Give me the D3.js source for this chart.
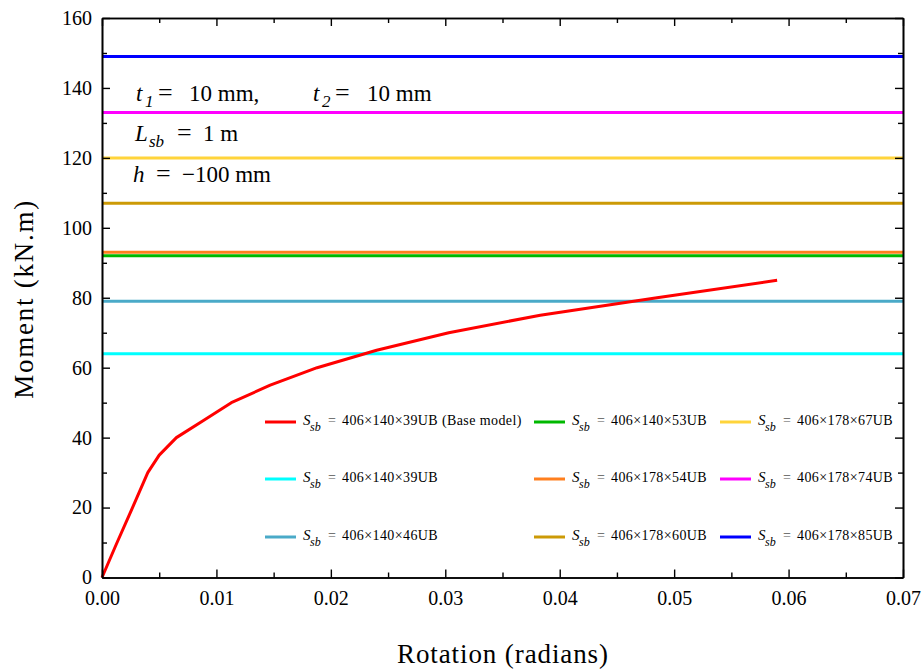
<!DOCTYPE html>
<html>
<head>
<meta charset="utf-8">
<script src="https://cdn.jsdelivr.net/npm/d3@7"></script>
<style>
  html, body { margin: 0; padding: 0; background: #fff; }
  svg { display: block; font-family: "Liberation Serif", "Times New Roman", serif; }
  .axis path, .axis line { stroke: #000; }
  .axis text { font-family: "Liberation Serif", serif; fill: #000; }
</style>
</head>
<body>
<svg id="chart" width="923" height="671"></svg>
<script>
// Moment–rotation curve of the base model
const rotation = [0, 0.00125, 0.0026, 0.004, 0.005, 0.0065, 0.0089, 0.0113, 0.0147, 0.0188, 0.024, 0.0303, 0.0383, 0.0485, 0.059];
const moment   = [0, 9.5, 19.5, 30, 35, 40, 45, 50, 55, 60, 65, 70, 75, 80, 85];

// Plastic moment capacities of the candidate secondary beam sections (kN.m)
const sectionNames = ["406×140×39UB", "406×140×46UB", "406×140×53UB", "406×178×54UB",
                      "406×178×60UB", "406×178×67UB", "406×178×74UB", "406×178×85UB"];
const capacities   = [64, 79, 92, 93, 107, 120, 133, 149];
const sectionColors = ["#00ffff", "#4aaac8", "#00b800", "#ff7f1e", "#cc9a06", "#ffd43b", "#ff00ff", "#0000ff"];

const baseName = "406×140×39UB (Base model)";
const baseColor = "#ff0000";

// Ticks
const xTicks = [0, 0.01, 0.02, 0.03, 0.04, 0.05, 0.06, 0.07];
const xMinorTicks = [0.005, 0.015, 0.025, 0.035, 0.045, 0.055, 0.065];
const yTicks = [0, 20, 40, 60, 80, 100, 120, 140, 160];
const yMinorTicks = [10, 30, 50, 70, 90, 110, 130, 150];

const svg = d3.select("#chart");
const W = 923, H = 671;
const margin = { top: 18, right: 20, bottom: 93.5, left: 102 };
const iw = W - margin.left - margin.right;
const ih = H - margin.top - margin.bottom;

const x = d3.scaleLinear().domain([0, 0.07]).range([0, iw]);
const y = d3.scaleLinear().domain([0, 160]).range([ih, 0]);

const g = svg.append("g").attr("transform", `translate(${margin.left},${margin.top})`);

// Capacity lines
g.selectAll("line.cap")
  .data(capacities)
  .join("line")
  .attr("class", "cap")
  .attr("x1", x(0)).attr("x2", x(0.07))
  .attr("y1", d => y(d)).attr("y2", d => y(d))
  .attr("stroke", (d, i) => sectionColors[i])
  .attr("stroke-width", 3);

// Base model curve
const curve = rotation.map((r, i) => [r, moment[i]]);
g.append("path")
  .datum(curve)
  .attr("fill", "none")
  .attr("stroke", baseColor)
  .attr("stroke-width", 3)
  .attr("stroke-linejoin", "round")
  .attr("d", d3.line().x(d => x(d[0])).y(d => y(d[1])));

// Axes with inward ticks on all four sides
const fmtX = d3.format(".2f");
function styleAxis(sel) {
  sel.attr("class", "axis");
  sel.select(".domain").attr("stroke-width", 1.6);
  sel.selectAll(".tick line").attr("stroke-width", 1.4);
  return sel;
}
styleAxis(g.append("g").attr("transform", `translate(0,${ih})`)
  .call(d3.axisBottom(x).tickValues(xTicks).tickFormat(fmtX).tickSizeInner(-8).tickSizeOuter(0).tickPadding(13)))
  .selectAll("text").attr("font-size", 20);
styleAxis(g.append("g").attr("transform", `translate(0,${ih})`)
  .call(d3.axisBottom(x).tickValues(xMinorTicks).tickFormat("").tickSizeInner(-5).tickSizeOuter(0)));
styleAxis(g.append("g")
  .call(d3.axisTop(x).tickValues(xTicks).tickFormat("").tickSizeInner(-8).tickSizeOuter(0)));
styleAxis(g.append("g")
  .call(d3.axisTop(x).tickValues(xMinorTicks).tickFormat("").tickSizeInner(-5).tickSizeOuter(0)));

styleAxis(g.append("g")
  .call(d3.axisLeft(y).tickValues(yTicks).tickFormat(d3.format("d")).tickSizeInner(-8).tickSizeOuter(0).tickPadding(10)))
  .selectAll("text").attr("font-size", 20);
styleAxis(g.append("g")
  .call(d3.axisLeft(y).tickValues(yMinorTicks).tickFormat("").tickSizeInner(-5).tickSizeOuter(0)));
styleAxis(g.append("g").attr("transform", `translate(${iw},0)`)
  .call(d3.axisRight(y).tickValues(yTicks).tickFormat("").tickSizeInner(-8).tickSizeOuter(0)));
styleAxis(g.append("g").attr("transform", `translate(${iw},0)`)
  .call(d3.axisRight(y).tickValues(yMinorTicks).tickFormat("").tickSizeInner(-5).tickSizeOuter(0)));

// Axis titles
svg.append("text")
  .attr("x", margin.left + iw / 2).attr("y", 663)
  .attr("text-anchor", "middle")
  .attr("font-size", 27)
  .attr("textLength", 211)
  .text("Rotation (radians)");
svg.append("text")
  .attr("transform", `translate(33,${margin.top + ih / 2 + 2}) rotate(-90)`)
  .attr("text-anchor", "middle")
  .attr("font-size", 27)
  .attr("textLength", 198)
  .text("Moment (kN.m)");

// Parameter annotations: symbol, optional subscript, "=" and value placed separately
const ann = svg.append("g").attr("font-size", 23).attr("fill", "#000");
function paramLabel(x0, yb, sym, sub, subOffset, eqX, valX, value) {
  const t = ann.append("text").attr("x", x0).attr("y", yb);
  t.append("tspan").attr("font-style", "italic").text(sym);
  if (sub) {
    t.append("tspan").attr("font-style", "italic").attr("font-size", 17)
      .attr("x", x0 + subOffset).attr("dy", 6).text(sub);
    t.append("tspan").attr("x", eqX).attr("dy", -6).attr("font-size", 26).text("=");
  } else {
    t.append("tspan").attr("x", eqX).attr("font-size", 26).text("=");
  }
  t.append("tspan").attr("x", valX).text(value);
}
paramLabel(136, 101, "t", "1", 9, 158, 189, "10 mm,");
paramLabel(313, 101, "t", "2", 9, 335, 367, "10 mm");
paramLabel(135, 141, "L", "sb", 14, 177, 203, "1 m");
paramLabel(133, 182, "h", null, 0, 156, 182, "−100 mm");

// Legend (three columns, filled column by column)
const legendNames = [baseName].concat(sectionNames);
const legendColors = [baseColor].concat(sectionColors);
const colX = [265, 534, 720];
const rowY = [422, 479, 537];
const legend = svg.append("g");
legendNames.forEach((name, i) => {
  const cx = colX[Math.floor(i / 3)];
  const cy = rowY[i % 3];
  const item = legend.append("g").attr("transform", `translate(${cx},${cy})`);
  item.append("line")
    .attr("x1", 0).attr("x2", 31).attr("y1", 0).attr("y2", 0)
    .attr("stroke", legendColors[i]).attr("stroke-width", 3);
  const t = item.append("text").attr("x", 38).attr("y", 3).attr("font-size", 14).attr("fill", "#000");
  t.append("tspan").attr("font-style", "italic").attr("font-size", 15).text("S");
  t.append("tspan").attr("font-style", "italic").attr("font-size", 12)
    .attr("x", 45).attr("dy", 6).text("sb");
  t.append("tspan").attr("x", 63).attr("dy", -6).attr("fill", "#555").text("=");
  t.append("tspan").attr("x", 77).attr("letter-spacing", 0.4).text(name);
});
</script>
</body>
</html>
